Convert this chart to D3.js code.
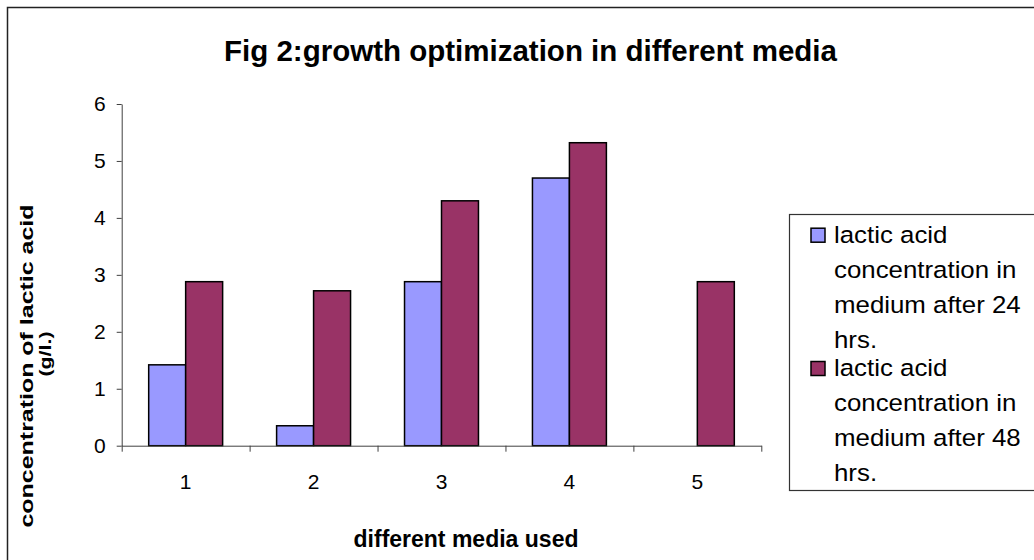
<!DOCTYPE html>
<html>
<head>
<meta charset="utf-8">
<script src="https://cdn.jsdelivr.net/npm/d3@7"></script>
<style>
  html, body { margin: 0; padding: 0; background: #fff; }
  svg { display: block; font-family: "Liberation Sans", Arial, sans-serif; }
</style>
</head>
<body>
<svg id="chart" width="1034" height="560"></svg>
<script>
// Media tested and lactic acid produced (g/l.)
const categories = ["1", "2", "3", "4", "5"];
const seriesNames = [
  "lactic acid concentration in medium after 24 hrs.",
  "lactic acid concentration in medium after 48 hrs."
];
const legendLines = [
  ["lactic acid", "concentration in", "medium after 24", "hrs."],
  ["lactic acid", "concentration in", "medium after 48", "hrs."]
];
const after24 = [1.42, 0.35, 2.88, 4.70, null];
const after48 = [2.88, 2.72, 4.30, 5.32, 2.88];
const yTicks = [0, 1, 2, 3, 4, 5, 6];
const seriesColors = ["#9999FF", "#993366"];

const svg = d3.select("#chart");

// outer chart frame
svg.append("rect")
  .attr("x", 7.5).attr("y", 7.5)
  .attr("width", 1040).attr("height", 570)
  .attr("fill", "none").attr("stroke", "#222").attr("stroke-width", 1.5);

const plot = { left: 121.7, right: 761.3, top: 104, bottom: 445.7 };

const x0 = d3.scaleBand().domain(categories)
  .range([plot.left, plot.right]).paddingInner(0).paddingOuter(0);
const x1 = d3.scaleBand().domain(d3.range(seriesNames.length))
  .range([0, x0.bandwidth()]).paddingInner(0).paddingOuter(0.73);
const y = d3.scaleLinear().domain([0, 6]).range([plot.bottom, plot.top]);

// bars
const rows = categories.map((c, i) => ({ c, vals: [after24[i], after48[i]] }));
const groups = svg.append("g").selectAll("g").data(rows).join("g")
  .attr("transform", d => `translate(${x0(d.c)},0)`);
groups.selectAll("rect")
  .data(d => d.vals.map((v, s) => ({ v, s })).filter(e => e.v != null))
  .join("rect")
  .attr("x", e => x1(e.s))
  .attr("width", x1.bandwidth())
  .attr("y", e => y(e.v))
  .attr("height", e => y(0) - y(e.v))
  .attr("fill", e => seriesColors[e.s])
  .attr("stroke", "#000").attr("stroke-width", 1.5);

// y axis
const yAxis = svg.append("g")
  .attr("transform", `translate(${plot.left},0)`)
  .call(d3.axisLeft(y).tickValues(yTicks).tickFormat(d3.format("d"))
    .tickSize(5).tickSizeOuter(0).tickPadding(11));
yAxis.select(".domain").attr("stroke", "#404040");
yAxis.selectAll(".tick line").attr("stroke", "#404040");
yAxis.selectAll("text").attr("font-size", 21).attr("fill", "#000")
  .attr("font-family", "Liberation Sans, Arial, sans-serif");

// x axis: boundary ticks between media, labels at band centres
const xEdges = d3.scaleLinear().domain([0, categories.length]).range([plot.left, plot.right]);
const xAxis = svg.append("g")
  .attr("transform", `translate(0,${plot.bottom})`)
  .call(d3.axisBottom(xEdges).ticks(categories.length).tickFormat("")
    .tickSize(6).tickSizeOuter(0));
xAxis.select(".domain").attr("stroke", "#404040");
xAxis.selectAll(".tick line").attr("stroke", "#404040");

const xLabels = svg.append("g")
  .attr("transform", `translate(0,${plot.bottom})`)
  .call(d3.axisBottom(x0).tickSize(0).tickPadding(28));
xLabels.select(".domain").remove();
xLabels.selectAll("text").attr("font-size", 21).attr("fill", "#000")
  .attr("font-family", "Liberation Sans, Arial, sans-serif");

// title
svg.append("text")
  .attr("x", 530.5).attr("y", 61)
  .attr("text-anchor", "middle")
  .attr("font-size", 29.5).attr("font-weight", "bold")
  .text("Fig 2:growth optimization in different media");

// x axis title
svg.append("text")
  .attr("x", 466).attr("y", 547)
  .attr("text-anchor", "middle")
  .attr("font-size", 23).attr("font-weight", "bold")
  .text("different media used");

// y axis title (two lines)
svg.append("text")
  .attr("transform", "translate(32.5,366) rotate(-90)")
  .attr("text-anchor", "middle")
  .attr("font-size", 18).attr("font-weight", "bold")
  .attr("textLength", 323).attr("lengthAdjust", "spacingAndGlyphs")
  .text("concentration of lactic acid");
svg.append("text")
  .attr("transform", "translate(50.5,354) rotate(-90)")
  .attr("text-anchor", "middle")
  .attr("font-size", 17).attr("font-weight", "bold")
  .attr("textLength", 45).attr("lengthAdjust", "spacingAndGlyphs")
  .text("(g/l.)");

// legend
const legend = svg.append("g");
legend.append("rect")
  .attr("x", 789.5).attr("y", 214.5)
  .attr("width", 250).attr("height", 276)
  .attr("fill", "#fff").attr("stroke", "#333").attr("stroke-width", 1.2);

const entryBaseline = [242.7, 376];
const lineStep = 35;
seriesNames.forEach((name, s) => {
  legend.append("rect")
    .attr("x", 811).attr("y", entryBaseline[s] - 14.5)
    .attr("width", 14).attr("height", 14)
    .attr("fill", seriesColors[s]).attr("stroke", "#000").attr("stroke-width", 1.5);
  const t = legend.append("g")
    .attr("transform", `translate(834,${entryBaseline[s]}) scale(1.1,1)`);
  legendLines[s].forEach((line, k) => {
    t.append("text")
      .attr("x", 0).attr("y", k * lineStep)
      .attr("font-size", 23.5)
      .text(line);
  });
});
</script>
</body>
</html>
